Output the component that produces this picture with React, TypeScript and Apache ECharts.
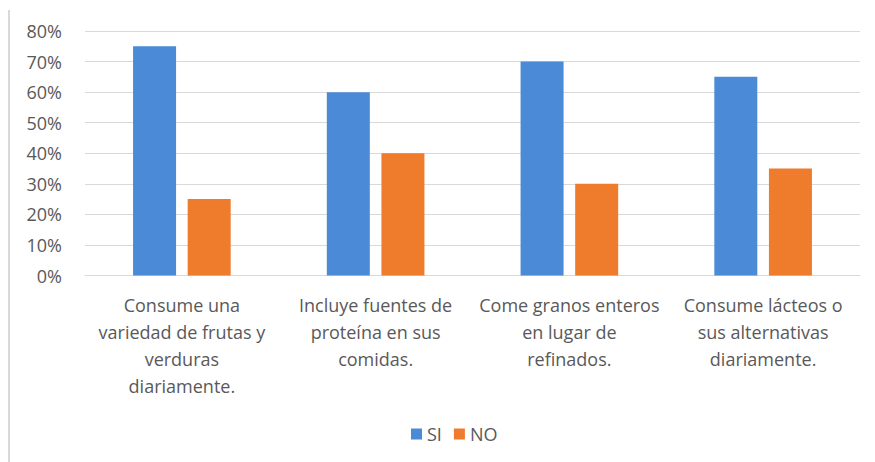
import React, { useEffect, useRef } from "react";
import * as echarts from "echarts";

const categories = [
  "Consume una\nvariedad de frutas y\nverduras\ndiariamente.",
  "Incluye fuentes de\nproteína en sus\ncomidas.",
  "Come granos enteros\nen lugar de\nrefinados.",
  "Consume lácteos o\nsus alternativas\ndiariamente.",
];
const siValues = [75, 60, 70, 65];
const noValues = [25, 40, 30, 35];
const seriesNames = ["SI", "NO"];

const FONT = "'Open Sans', Lato, sans-serif";

export default function App() {
  const ref = useRef<HTMLDivElement>(null);
  useEffect(() => {
    if (!ref.current) return;
    const chart = echarts.init(ref.current, undefined, { renderer: "svg" });
    chart.setOption({
      animation: false,
      backgroundColor: "#ffffff",
      textStyle: { fontFamily: FONT },
      grid: { left: 85, right: 15, top: 31, bottom: 186.5, containLabel: false },
      legend: {
        data: seriesNames,
        top: 420,
        left: 406,
        itemWidth: 11,
        itemHeight: 11,
        itemGap: 12,
        icon: "rect",
        textStyle: { color: "#595959", fontSize: 18, fontFamily: FONT },
      },
      xAxis: {
        type: "category",
        data: categories,
        axisTick: { show: false },
        axisLine: { show: true, lineStyle: { color: "#d9d9d9" } },
        axisLabel: {
          interval: 0,
          color: "#595959",
          fontSize: 18,
          lineHeight: 27,
          margin: 16,
          fontFamily: FONT,
        },
      },
      yAxis: {
        type: "value",
        min: 0,
        max: 80,
        interval: 10,
        axisLine: { show: false },
        axisTick: { show: false },
        splitLine: { lineStyle: { color: "#d9d9d9" } },
        axisLabel: {
          formatter: "{value}%",
          color: "#595959",
          fontSize: 18,
          margin: 23,
          fontFamily: FONT,
        },
      },
      graphic: [
        {
          type: "line",
          shape: { x1: 9, y1: 10, x2: 9, y2: 462 },
          style: { stroke: "#d9d9d9", lineWidth: 2 },
        },
      ],
      series: [
        {
          name: seriesNames[0],
          type: "bar",
          data: siValues,
          barWidth: 43,
          barGap: "27%",
          itemStyle: { color: "#4a8ad6" },
        },
        {
          name: seriesNames[1],
          type: "bar",
          data: noValues,
          barWidth: 43,
          itemStyle: { color: "#ef7b2c" },
        },
      ],
    });
    return () => chart.dispose();
  }, []);
  return <div ref={ref} style={{ width: 875, height: 462, position: "absolute", left: 0, top: 0 }} />;
}
